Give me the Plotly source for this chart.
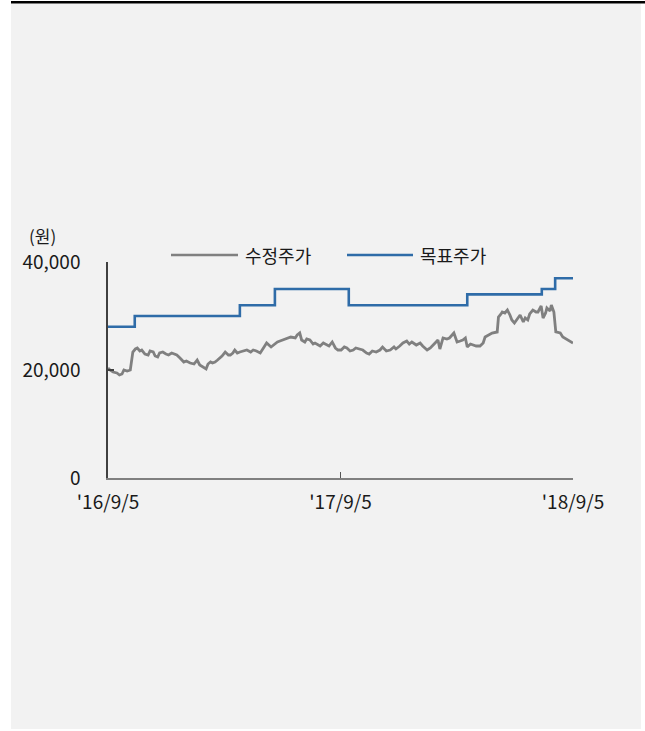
import plotly.graph_objects as go

# ---- data ----
price_dates = [
    "2016-09-05", "2016-09-08", "2016-09-13", "2016-09-19", "2016-09-23", "2016-09-27",
    "2016-09-30", "2016-10-05", "2016-10-10", "2016-10-12", "2016-10-14", "2016-10-18",
    "2016-10-21", "2016-10-25", "2016-10-28", "2016-11-02", "2016-11-07", "2016-11-10",
    "2016-11-15", "2016-11-18", "2016-11-22", "2016-11-25", "2016-11-30", "2016-12-05",
    "2016-12-09", "2016-12-14", "2016-12-22", "2016-12-27", "2017-01-02", "2017-01-06",
    "2017-01-12", "2017-01-18", "2017-01-23", "2017-01-27", "2017-02-01", "2017-02-06",
    "2017-02-09", "2017-02-13", "2017-02-16", "2017-02-20", "2017-02-24", "2017-02-28",
    "2017-03-03", "2017-03-08", "2017-03-13", "2017-03-16", "2017-03-20", "2017-03-23",
    "2017-03-27", "2017-03-31", "2017-04-05", "2017-04-11", "2017-04-17", "2017-04-21",
    "2017-04-26", "2017-05-02", "2017-05-08", "2017-05-12", "2017-05-19", "2017-05-24",
    "2017-05-29", "2017-06-02", "2017-06-07", "2017-06-13", "2017-06-19", "2017-06-26",
    "2017-06-29", "2017-07-03", "2017-07-06", "2017-07-11", "2017-07-14", "2017-07-19",
    "2017-07-24", "2017-07-27", "2017-08-01", "2017-08-04", "2017-08-09", "2017-08-15",
    "2017-08-18", "2017-08-23", "2017-08-28", "2017-09-01", "2017-09-06", "2017-09-11",
    "2017-09-15", "2017-09-20", "2017-09-25", "2017-09-29", "2017-10-10", "2017-10-16",
    "2017-10-20", "2017-10-25", "2017-10-31", "2017-11-06", "2017-11-10", "2017-11-16",
    "2017-11-22", "2017-11-28", "2017-12-01", "2017-12-07", "2017-12-12", "2017-12-18",
    "2017-12-22", "2017-12-26", "2018-01-02", "2018-01-08", "2018-01-12", "2018-01-19",
    "2018-01-24", "2018-01-30", "2018-02-05", "2018-02-08", "2018-02-13", "2018-02-19",
    "2018-02-23", "2018-03-02", "2018-03-07", "2018-03-12", "2018-03-16", "2018-03-20",
    "2018-03-23", "2018-03-28", "2018-04-02", "2018-04-06", "2018-04-12", "2018-04-17",
    "2018-04-20", "2018-04-25", "2018-05-01", "2018-05-09", "2018-05-11", "2018-05-15",
    "2018-05-17", "2018-05-21", "2018-05-25", "2018-05-29", "2018-06-01", "2018-06-05",
    "2018-06-11", "2018-06-14", "2018-06-19", "2018-06-22", "2018-06-26", "2018-06-29",
    "2018-07-04", "2018-07-09", "2018-07-12", "2018-07-17", "2018-07-20", "2018-07-24",
    "2018-07-26", "2018-07-31", "2018-08-02", "2018-08-06", "2018-08-09", "2018-08-13",
    "2018-08-16", "2018-08-20", "2018-08-23", "2018-08-27", "2018-08-31", "2018-09-05",
]
price_values = [
    20370, 20000, 19630, 19440, 19070, 19260,
    20000, 19820, 20000, 21300, 23330, 23890,
    24070, 23520, 23700, 22960, 22780, 23520,
    23330, 22590, 22410, 23150, 23330, 22960,
    22780, 23150, 22780, 22220, 21480, 21670,
    21300, 21110, 21850, 20930, 20560, 20190,
    21110, 21480, 21300, 21480, 21850, 22220,
    22590, 23330, 22780, 22780, 23150, 23700,
    23150, 23330, 23520, 23700, 23330, 23700,
    23520, 23150, 24260, 25000, 24260, 24810,
    25190, 25370, 25560, 25740, 26110, 25930,
    26480, 26850, 25560, 25190, 25740, 25560,
    24810, 25000, 24630, 24440, 25000, 24630,
    24440, 25190, 24070, 23700, 23700, 24260,
    24070, 23520, 23700, 24070, 23700, 23150,
    22960, 23520, 23330, 23700, 24260, 23520,
    23700, 24260, 23890, 24440, 25000, 25370,
    24810, 25190, 24630, 25000, 24440, 23700,
    24070, 24810, 25560, 23890, 25930, 25740,
    25930, 26850, 25190, 25370, 25560, 25930,
    24260, 24810, 24630, 24440, 24440, 25000,
    26110, 26480, 26850, 27040, 29810, 30370,
    30740, 30560, 31110, 30190, 29260, 28700,
    29630, 30190, 28890, 29630, 29260, 30370,
    31110, 30740, 30740, 31850, 29630, 30560,
    31480, 30920, 32040, 30740, 27040, 26850,
    26850, 26110, 25930, 25560, 25370, 25000,
]

target_dates = ["2016-09-05", "2016-10-17", "2017-03-31", "2017-05-25", "2017-09-18",
                "2018-03-23", "2018-07-18", "2018-08-08", "2018-09-05"]
target_values = [28000, 30000, 32000, 35000, 32000, 34000, 35000, 37000, 37000]

series_names = ["수정주가", "목표주가"]
x_tick_vals = ["2016-09-05", "2017-09-05", "2018-09-05"]
x_tick_text = ["'16/9/5", "'17/9/5", "'18/9/5"]
y_tick_vals = [0, 20000, 40000]
y_tick_text = ["0", "20,000", "40,000"]
unit_label = "(원)"

# ---- style ----
W, H = 645, 731
L, R, T, B = 108, 573, 262, 478
FONT = "Noto Sans CJK KR, Noto Sans, sans-serif"
GRAY = "#808080"
BLUE = "#2f6ca8"
TXT = "#1a1a1a"

def px_x(p):
    return (p - L) / (R - L)

def px_y(p):
    return (B - p) / (B - T)

fig = go.Figure()
fig.add_trace(go.Scatter(x=price_dates, y=price_values, mode="lines", name=series_names[0],
                         line=dict(color=GRAY, width=2.8), showlegend=False))
fig.add_trace(go.Scatter(x=target_dates, y=target_values, mode="lines", name=series_names[1],
                         line=dict(color=BLUE, width=2.6, shape="hv"), showlegend=False))

shapes = [
    dict(type="rect", xref="paper", yref="paper", layer="below",
         x0=px_x(11), x1=px_x(641), y0=px_y(729), y1=px_y(3.5),
         fillcolor="#f2f2f2", line=dict(width=0)),
    dict(type="rect", xref="paper", yref="paper", layer="below",
         x0=px_x(11), x1=px_x(645), y0=px_y(3.6), y1=px_y(1),
         fillcolor="#000000", line=dict(width=0)),
    dict(type="line", xref="paper", yref="paper", x0=px_x(171), x1=px_x(238),
         y0=px_y(255), y1=px_y(255), line=dict(color=GRAY, width=2.6)),
    dict(type="line", xref="paper", yref="paper", x0=px_x(347), x1=px_x(413),
         y0=px_y(255), y1=px_y(255), line=dict(color=BLUE, width=2.6)),
]

annotations = [
    dict(text=series_names[0], xref="paper", yref="paper", x=px_x(243), y=px_y(255),
         xanchor="left", yanchor="middle", showarrow=False, font=dict(size=18, color=TXT, family=FONT)),
    dict(text=series_names[1], xref="paper", yref="paper", x=px_x(418), y=px_y(255),
         xanchor="left", yanchor="middle", showarrow=False, font=dict(size=18, color=TXT, family=FONT)),
    dict(text=unit_label, xref="paper", yref="paper", x=px_x(27), y=px_y(236),
         xanchor="left", yanchor="middle", showarrow=False, font=dict(size=17, color=TXT, family=FONT)),
]

fig.update_layout(
    width=W, height=H,
    margin=dict(l=L, r=W - R, t=T, b=H - B, pad=0),
    paper_bgcolor="#ffffff",
    plot_bgcolor="rgba(0,0,0,0)",
    font=dict(family=FONT, size=19, color=TXT),
    shapes=shapes,
    annotations=annotations,
    xaxis=dict(type="date", range=["2016-09-05", "2018-09-05"],
               tickvals=x_tick_vals, ticktext=x_tick_text,
               showline=True, linecolor=GRAY, linewidth=2,
               ticks="inside", ticklen=6, tickcolor="#555555", tickwidth=1,
               showgrid=False, zeroline=False, tickfont=dict(size=19, color=TXT),
               ticklabelstandoff=6),
    yaxis=dict(range=[0, 40000], tickvals=y_tick_vals, ticktext=y_tick_text,
               showline=True, linecolor="#404040", linewidth=1.5,
               ticks="inside", ticklen=6, tickcolor="#404040", tickwidth=1.5,
               showgrid=False, zeroline=False, tickfont=dict(size=19, color=TXT),
               ticklabelstandoff=22),
)

fig.write_html("out.html")
